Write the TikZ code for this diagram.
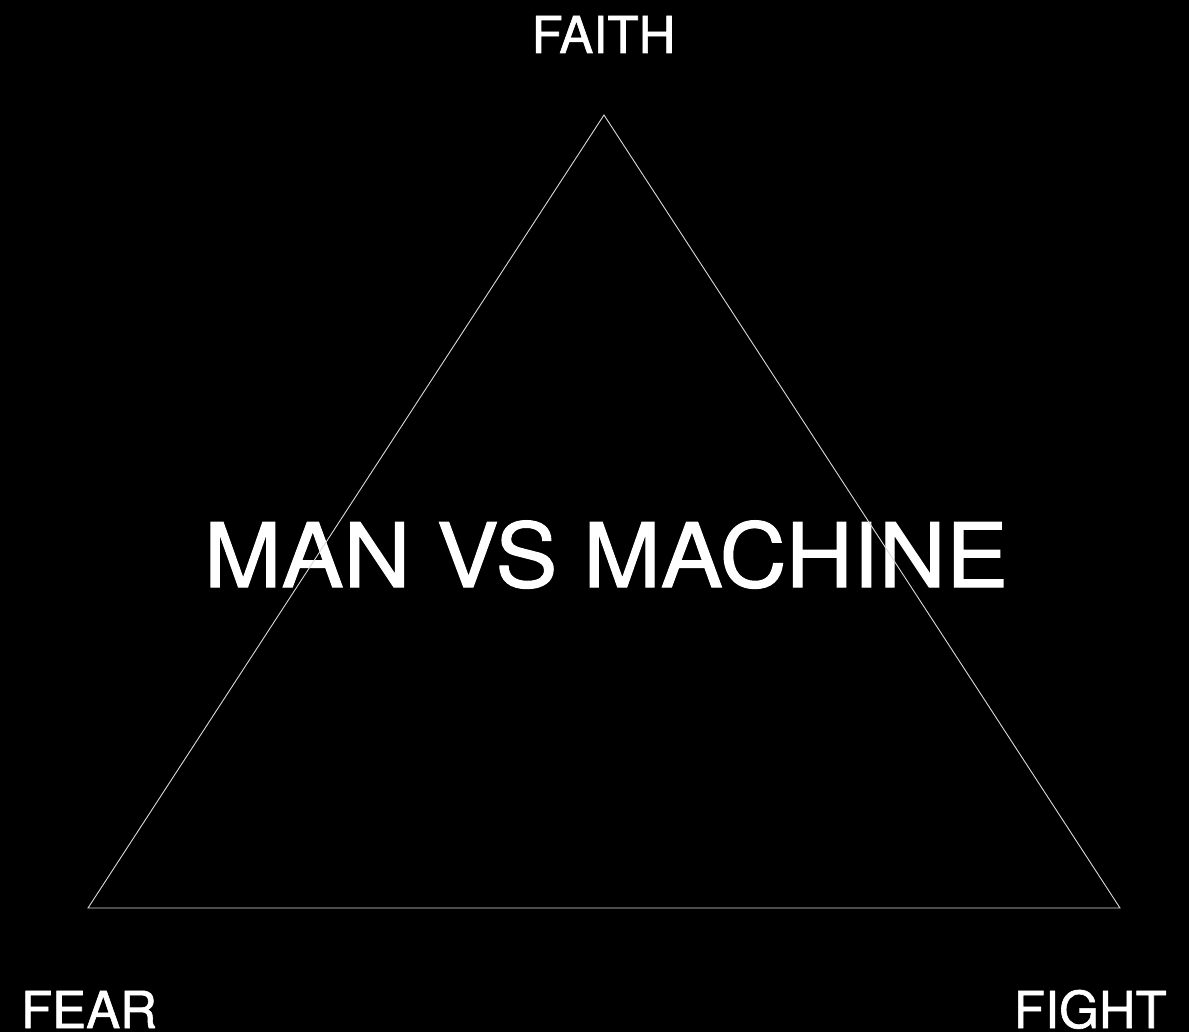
\documentclass[tikz,border=0pt]{standalone}
\usepackage{fontspec}
\setmainfont{TeX Gyre Heros}[FakeBold=1.2]
\begin{document}
\begin{tikzpicture}[x=1pt,y=-1pt,
  lbl/.style={text=white,inner sep=0pt,font=\fontsize{51}{52}\selectfont},
  title/.style={text=white,inner sep=0pt,font=\fontsize{89}{90}\selectfont},
  edge/.style={draw=white!85!black,line width=0.9pt}]
\fill[black] (0,0) rectangle (1189,1032);
\useasboundingbox (0,0) rectangle (1189,1032);
\node[lbl,anchor=base] (faith) at (603.5,53) {FAITH};
\node[lbl,anchor=base] (fear) at (89,1028) {FEAR};
\node[lbl,anchor=base east] (fight) at (1167,1028) {FIGHT};
\node[title,anchor=base] (main) at (606,587) {\scalebox{1.045}[1]{MAN VS MACHINE}};
\coordinate (top) at (604,115);
\coordinate (bl) at (88,908);
\coordinate (br) at (1120,908);
\draw[edge] (top) -- (bl) -- (br) -- cycle;
\end{tikzpicture}
\end{document}
